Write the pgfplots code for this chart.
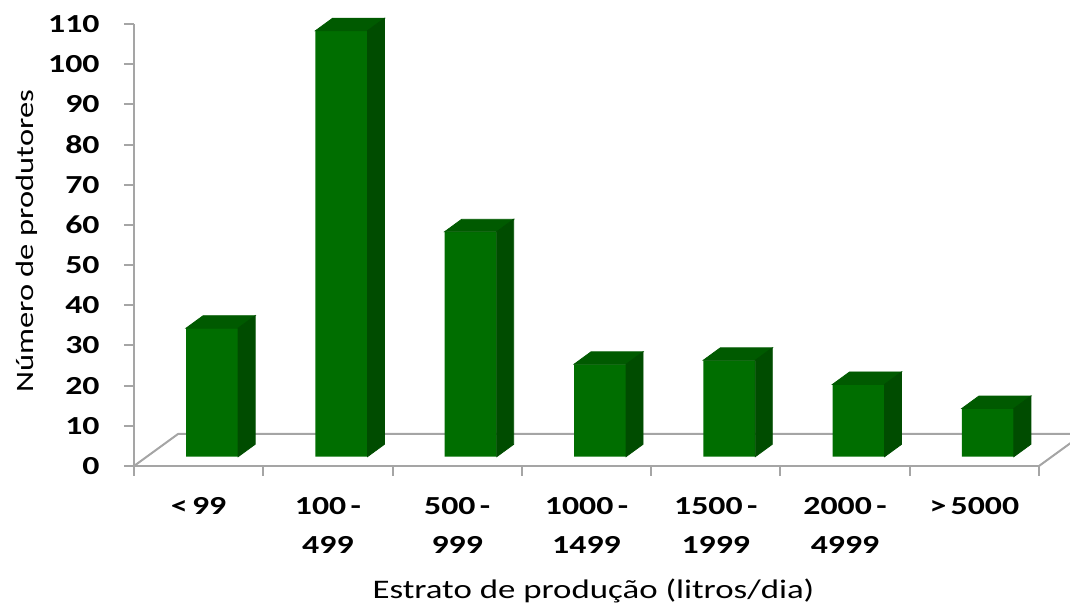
\documentclass[border=0pt]{standalone}
\usepackage{fontspec}
\setmainfont{Carlito}[FakeStretch=1.3]
\usepackage{pgfplots}
\usepackage{pgfplotstable}
\pgfplotsset{compat=1.18}

\definecolor{barfront}{RGB}{0,110,0}
\definecolor{bartop}{RGB}{0,90,0}
\definecolor{barside}{RGB}{0,76,0}
\definecolor{axisgray}{RGB}{165,165,165}

% an invisible mark: the scatter code below draws the box faces
\pgfdeclareplotmark{none3d}{}

% number of producers per production stratum (category centres)
\pgfplotstableread{
x    n
0.5  32
1.5  106
2.5  56
3.5  23
4.5  24
5.5  18
6.5  12
}\producers

\begin{document}
\begin{tikzpicture}
\begin{axis}[
  scale only axis,
  width=452.5pt, height=221pt,
  xmin=0, xmax=7, ymin=0, ymax=110,
  clip=false,
  axis lines*=left,
  axis line style={axisgray, line width=1pt},
  every tick/.style={axisgray, line width=1pt},
  tick align=outside,
  major tick length=5pt,
  ytick={0,10,...,110},
  xtick={0,...,7},
  x tick label as interval,
  xticklabels={{<\,99},{100\,-\\499},{500\,-\\999},{1000\,-\\1499},{1500\,-\\1999},{2000\,-\\4999},{>\,5000}},
  /pgf/number format/assume math mode=true,
  tick label style={font=\bfseries\fontsize{13}{19.3}\selectfont},
  yticklabel style={anchor=east, inner sep=0pt, xshift=-12pt},
  xticklabel style={anchor=north, align=center, inner sep=0pt, yshift=-10.5pt},
  xlabel={Estrato de produção (litros/dia)},
  ylabel={Número de produtores},
  label style={font=\fontsize{13.4}{15}\selectfont},
  xlabel style={at={(axis description cs:0.5077,-0.3005)}, anchor=base},
  ylabel style={at={(axis description cs:-0.1112,0.508)}, anchor=base, font=\fontsize{12.5}{14}\selectfont},
]
% floor outline
\draw[axisgray, line width=1pt, line join=round]
  (axis cs:0,0) -- ++(22pt,16pt) -- ++(452.5pt,0pt) -- (axis cs:7,0);

% front faces of the bars
\addplot[ybar, bar width=26pt, bar shift=6.75pt, yshift=4.65pt,
  fill=barfront, draw=none] table[x=x, y=n] {\producers};

% top and side faces of the bars (one y unit = 221pt/110)
\addplot[scatter, only marks, mark=none3d, yshift=4.65pt,
  visualization depends on={rawy \as \val},
  scatter/@pre marker code/.code={%
    \pgfmathsetmacro\h{\val*2.00909}%
    \pgfmathsetmacro\hb{6.2-\h}%
    \fill[bartop] (-6.25pt,0pt) -- (19.75pt,0pt) -- (28.25pt,6.2pt) -- (2.25pt,6.2pt) -- cycle;
    \fill[barside] (19.75pt,0pt) -- (28.25pt,6.2pt) -- (28.25pt,\hb pt) -- (19.75pt,-\h pt) -- cycle;
  },
  scatter/@post marker code/.code={},
] table[x=x, y=n] {\producers};
\end{axis}
\pgfresetboundingbox
\useasboundingbox (-67pt,-74pt) rectangle (468pt,233pt);
\end{tikzpicture}
\end{document}
